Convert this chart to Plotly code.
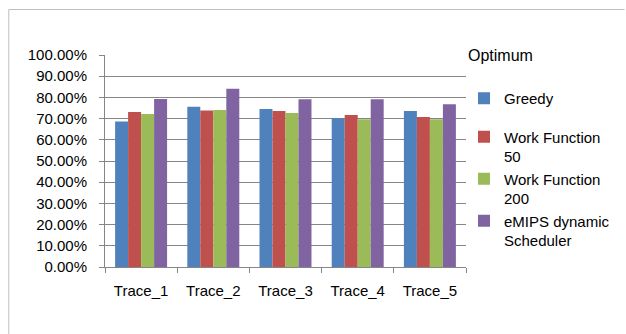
import plotly.graph_objects as go

# Per-trace scheduling efficiency, relative to the optimum
traces = ["Trace_1", "Trace_2", "Trace_3", "Trace_4", "Trace_5"]
greedy = [0.686, 0.756, 0.745, 0.702, 0.736]
work_function_50 = [0.731, 0.738, 0.736, 0.717, 0.707]
work_function_200 = [0.722, 0.741, 0.727, 0.697, 0.697]
emips_dynamic = [0.793, 0.841, 0.791, 0.791, 0.768]
optimum = 1.0

series = [
    ("Greedy", greedy, "#4F81BD", "single"),
    ("Work Function<br>50", work_function_50, "#C0504D", "double"),
    ("Work Function<br>200", work_function_200, "#9BBB59", "double"),
    ("eMIPS dynamic<br>Scheduler", emips_dynamic, "#8064A2", "double"),
]

FONT = "Liberation Sans, Arial, sans-serif"
GRID = "#868686"
W, H = 626, 334
L, R, T, B = 105, 159, 55, 67
pw, ph = W - L - R, H - T - B


def px(x):
    return (x - L) / pw


def py(y):
    return (H - B - y) / ph


fig = go.Figure()
for name, vals, color, group in series:
    fig.add_trace(go.Bar(
        x=traces, y=vals, name=name, marker_color=color,
        marker_line_width=0, legendgroup=group,
    ))

fig.add_annotation(
    x=1.0, xref="paper", xanchor="left", y=optimum, yref="y", yanchor="middle",
    text="Optimum", showarrow=False, xshift=0,
    font=dict(family=FONT, size=16, color="#000000"),
)

# chart frame (left and top edges)
frame = dict(color="#BFBFBF", width=1)
fig.add_shape(type="line", xref="paper", yref="paper",
              x0=px(8.5), x1=px(8.5), y0=py(9.5), y1=py(334), line=frame)
fig.add_shape(type="line", xref="paper", yref="paper",
              x0=px(8.5), x1=px(626), y0=py(9.5), y1=py(9.5), line=frame)

fig.update_layout(
    width=W, height=H,
    margin=dict(l=L, r=R, t=T, b=B),
    paper_bgcolor="white", plot_bgcolor="white",
    barmode="group", bargap=0.28, bargroupgap=0,
    font=dict(family=FONT, size=15, color="#000000"),
    legend=dict(
        x=px(464), xanchor="left", y=py(82), yanchor="top",
        valign="top", tracegroupgap=16,
        font=dict(family=FONT, size=15, color="#000000"),
        bgcolor="rgba(0,0,0,0)",
    ),
    xaxis=dict(
        showline=True, linecolor=GRID, linewidth=1,
        ticks="outside", tickson="boundaries", ticklen=5, tickcolor=GRID,
        showgrid=False, ticklabelstandoff=10,
    ),
    yaxis=dict(
        range=[0, 1], dtick=0.1, tickformat=".2%",
        showline=True, linecolor=GRID, linewidth=1,
        ticks="outside", ticklen=5, tickcolor=GRID,
        showgrid=True, gridcolor=GRID, gridwidth=1, zeroline=False,
        ticklabelstandoff=9,
    ),
)

fig.write_html("out.html")
